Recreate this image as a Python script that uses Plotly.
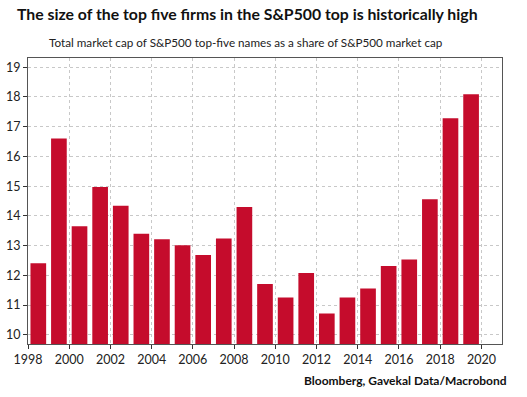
import plotly.graph_objects as go

years = list(range(1998, 2020))
values = [12.41, 16.60, 13.65, 14.97, 14.34, 13.40, 13.21, 13.01, 12.68, 13.24, 14.30,
          11.71, 11.25, 12.08, 10.72, 11.25, 11.56, 12.31, 12.53, 14.56, 17.28, 18.09]
x_ticks = list(range(1998, 2021, 2))
y_ticks = list(range(10, 20))

title = "The size of the top five firms in the S&P500 top is historically high"
subtitle = "Total market cap of S&P500 top-five names as a share of S&P500 market cap"
source = "Bloomberg, Gavekal Data/Macrobond"

bar_color = "#c50c2c"
font_family = "Lato, Open Sans, sans-serif"

fig = go.Figure()
fig.add_trace(go.Bar(
    x=[y + 0.5 for y in years],
    y=values,
    width=0.76,
    marker=dict(color=bar_color, line=dict(width=0)),
    base=0,
))

fig.update_layout(
    width=527, height=397,
    margin=dict(l=28, r=25, t=58, b=53),
    paper_bgcolor="white",
    plot_bgcolor="white",
    showlegend=False,
    font=dict(family=font_family, color="#222222", size=12),
    xaxis=dict(
        range=[1998, 2021], automargin=False,
        tickmode="array", tickvals=x_ticks, ticktext=[str(t) for t in x_ticks],
        showgrid=True, gridcolor="#c8c8c8", griddash="dot", gridwidth=1,
        showline=True, linecolor="#555555", linewidth=1, mirror=True,
        ticks="outside", ticklen=4, tickcolor="#333333",
        tickfont=dict(size=12.5, family=font_family, color="#222222"),
        zeroline=False,
    ),
    yaxis=dict(
        range=[9.69, 19.31], automargin=False,
        tickmode="array", tickvals=y_ticks, ticktext=[str(t) for t in y_ticks],
        showgrid=True, gridcolor="#c8c8c8", griddash="dot", gridwidth=1,
        showline=True, linecolor="#555555", linewidth=1, mirror=True,
        ticks="outside", ticklen=4, tickcolor="#333333",
        tickfont=dict(size=12.5, family=font_family, color="#222222"),
        zeroline=False,
    ),
    annotations=[
        dict(text="<b>" + title + "</b>", xref="paper", yref="paper",
             x=-0.027, y=1.154, xanchor="left", yanchor="middle", showarrow=False,
             font=dict(size=15.8, family=font_family, color="#111111")),
        dict(text=subtitle, xref="paper", yref="paper",
             x=0.459, y=1.056, xanchor="center", yanchor="middle", showarrow=False,
             font=dict(size=11.7, family=font_family, color="#222222")),
        dict(text="<b>" + source + "</b>", xref="paper", yref="paper",
             x=1.015, y=-0.129, xanchor="right", yanchor="middle", showarrow=False,
             font=dict(size=12, family=font_family, color="#111111")),
    ],
)

fig.write_html("out.html", config={"displayModeBar": False},
               post_script="document.body.style.margin='0';document.body.style.padding='0';")
